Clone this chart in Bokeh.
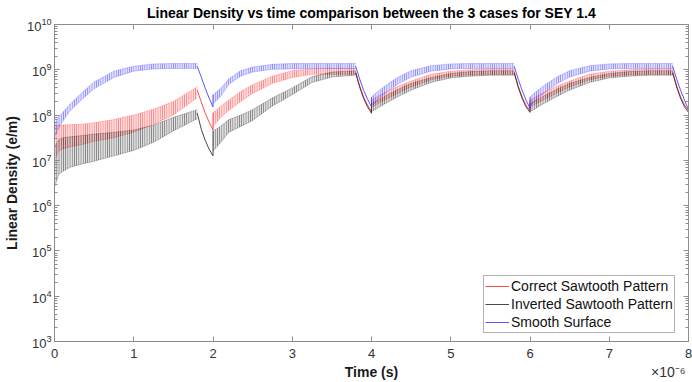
import numpy as np
from bokeh.plotting import figure
from bokeh.models import (LinearAxis, LogAxis, Legend, LegendItem, Title,
                          FixedTicker, Range1d, CustomJSTickFormatter)
from bokeh.embed import file_html
from bokeh.resources import INLINE

# ---------------- data (time in microseconds, densities as log10(e/m)) -------------
TRAIN_STARTS_US = [0.0, 2.0, 4.0, 6.0]
REL_T_US = [0.0, 0.05, 0.1, 0.2, 0.35, 0.5, 0.75, 1.0, 1.25, 1.5, 1.8]
DECAY_REL_T_US = [1.8, 1.85, 1.9, 1.95, 2.0]

SERIES_NAMES = ["Correct Sawtooth Pattern", "Inverted Sawtooth Pattern", "Smooth Surface"]

# Correct sawtooth (red)
red_start = 3.65
red_hi = [[7.75, 7.78, 7.78, 7.79, 7.80, 7.83, 7.90, 8.00, 8.13, 8.30, 8.62],
          [8.05, 8.12, 8.20, 8.33, 8.52, 8.67, 8.86, 8.98, 9.02, 9.03, 9.03],
          [8.33, 8.38, 8.43, 8.52, 8.65, 8.75, 8.90, 8.97, 9.00, 9.02, 9.02],
          [8.33, 8.38, 8.43, 8.52, 8.65, 8.75, 8.90, 8.97, 9.00, 9.02, 9.02]]
red_lo = [[7.00, 7.20, 7.25, 7.30, 7.35, 7.42, 7.50, 7.62, 7.80, 8.00, 8.38],
          [7.74, 7.85, 7.95, 8.10, 8.30, 8.48, 8.70, 8.83, 8.90, 8.90, 8.90],
          [8.18, 8.22, 8.27, 8.36, 8.50, 8.62, 8.78, 8.86, 8.89, 8.90, 8.90],
          [8.18, 8.22, 8.27, 8.36, 8.50, 8.62, 8.78, 8.86, 8.89, 8.90, 8.90]]
red_decay = [[8.55, 8.30, 8.05, 7.85, 7.67],
             [8.96, 8.65, 8.40, 8.22, 8.08],
             [8.96, 8.65, 8.40, 8.22, 8.10],
             [8.96, 8.65, 8.40, 8.22, 8.10]]

# Inverted sawtooth (black)
blk_start = 4.10
blk_hi = [[7.30, 7.45, 7.50, 7.52, 7.55, 7.58, 7.62, 7.67, 7.78, 7.95, 8.12],
          [7.65, 7.70, 7.76, 7.90, 8.00, 8.12, 8.38, 8.60, 8.85, 8.95, 8.98],
          [8.26, 8.30, 8.35, 8.45, 8.58, 8.70, 8.83, 8.92, 8.96, 8.98, 8.98],
          [8.26, 8.30, 8.35, 8.45, 8.58, 8.70, 8.83, 8.92, 8.96, 8.98, 8.98]]
blk_lo = [[6.40, 6.68, 6.75, 6.85, 6.92, 6.98, 7.10, 7.22, 7.40, 7.65, 7.92],
          [7.20, 7.30, 7.40, 7.62, 7.75, 7.88, 8.20, 8.45, 8.72, 8.84, 8.88],
          [8.08, 8.12, 8.18, 8.28, 8.42, 8.55, 8.72, 8.82, 8.86, 8.88, 8.88],
          [8.08, 8.12, 8.18, 8.28, 8.42, 8.55, 8.72, 8.82, 8.86, 8.88, 8.88]]
blk_decay = [[8.05, 7.70, 7.45, 7.25, 7.10],
             [8.93, 8.62, 8.37, 8.18, 8.04],
             [8.93, 8.62, 8.37, 8.18, 8.06],
             [8.93, 8.62, 8.37, 8.18, 8.06]]

# Smooth surface (blue)
blu_start = 4.30
blu_hi = [[7.80, 7.95, 8.05, 8.25, 8.50, 8.73, 8.97, 9.08, 9.13, 9.14, 9.14],
          [8.45, 8.52, 8.60, 8.80, 8.98, 9.06, 9.12, 9.14, 9.14, 9.14, 9.14],
          [8.40, 8.48, 8.55, 8.68, 8.85, 8.98, 9.09, 9.13, 9.14, 9.14, 9.14],
          [8.40, 8.48, 8.55, 8.68, 8.85, 8.98, 9.09, 9.13, 9.14, 9.14, 9.14]]
blu_lo = [[7.50, 7.70, 7.85, 8.10, 8.35, 8.58, 8.83, 8.97, 9.02, 9.03, 9.03],
          [8.25, 8.33, 8.42, 8.68, 8.86, 8.95, 9.01, 9.02, 9.03, 9.03, 9.03],
          [8.20, 8.28, 8.37, 8.52, 8.70, 8.84, 8.97, 9.02, 9.03, 9.03, 9.03],
          [8.20, 8.28, 8.37, 8.52, 8.70, 8.84, 8.97, 9.02, 9.03, 9.03, 9.03]]
blu_decay = [[9.08, 8.85, 8.60, 8.38, 8.18],
             [9.08, 8.80, 8.55, 8.35, 8.18],
             [9.08, 8.80, 8.55, 8.33, 8.15],
             [9.08, 8.80, 8.55, 8.33, 8.12]]

X_TICKS = [0, 1, 2, 3, 4, 5, 6, 7, 8]
Y_DECADES = [3, 4, 5, 6, 7, 8, 9, 10]

# ---------------- figure ---------------------------------------------------------
p = figure(width=692, height=382, x_range=Range1d(0, 8), y_range=Range1d(1e3, 1e10),
           y_axis_type="log", output_backend="svg", toolbar_location=None,
           min_border_left=50, min_border_right=4, min_border_top=24, min_border_bottom=39)
p.background_fill_color = "white"
p.border_fill_color = "white"
p.xgrid.visible = False
p.ygrid.visible = False
p.outline_line_color = "#8c8c8c"

series = [
    ("#ff2a2a", red_start, red_hi, red_lo, red_decay),
    ("#2a2a2a", blk_start, blk_hi, blk_lo, blk_decay),
    ("#3a3aff", blu_start, blu_hi, blu_lo, blu_decay),
]

legend_renderers = []
for color, start, his, los, decays in series:
    first = None
    p.line([0.0, 0.0], [10 ** start, 10 ** his[0][0]], line_color=color, line_width=1, line_alpha=0.8)
    for k, t0 in enumerate(TRAIN_STARTS_US):
        t = [t0 + r for r in REL_T_US]
        hi = [10 ** v for v in his[k]]
        lo = [10 ** v for v in los[k]]
        p.varea(x=t, y1=lo, y2=hi, fill_color=color, fill_alpha=0.15,
                hatch_pattern="|", hatch_color=color, hatch_alpha=0.7,
                hatch_scale=2.2, hatch_weight=0.9)
        p.line(t, hi, line_color=color, line_alpha=0.3, line_width=0.8)
        p.line(t, lo, line_color=color, line_alpha=0.3, line_width=0.8)
        dt = [t0 + r for r in DECAY_REL_T_US]
        dv = [10 ** v for v in decays[k]]
        if k + 1 < len(TRAIN_STARTS_US):
            dt = dt + [dt[-1]]
            dv = dv + [10 ** his[k + 1][0]]
        r = p.line(dt, dv, line_color=color, line_width=1, line_alpha=0.85)
        if first is None:
            first = r
    legend_renderers.append(first)

# ---------------- axes -----------------------------------------------------------
AX_COL = "#8c8c8c"
LBL_COL = "#333333"

p.xaxis.ticker = FixedTicker(ticks=X_TICKS)
p.yaxis.ticker = FixedTicker(ticks=[10.0 ** d for d in Y_DECADES],
                             minor_ticks=[m * 10.0 ** d for d in Y_DECADES[:-1] for m in range(2, 10)])

for ax in (p.xaxis[0], p.yaxis[0]):
    ax.axis_line_color = AX_COL
    ax.major_tick_line_color = AX_COL
    ax.minor_tick_line_color = AX_COL
    ax.major_tick_in = 5
    ax.major_tick_out = 0
    ax.minor_tick_in = 3
    ax.minor_tick_out = 0
    ax.major_label_text_color = LBL_COL
    ax.major_label_text_font = "Liberation Sans"
    ax.major_label_text_font_size = "13px"
    ax.axis_label_text_font = "Liberation Sans"
    ax.axis_label_text_font_style = "bold"
    ax.axis_label_text_font_size = "14px"
    ax.axis_label_text_color = "#1a1a1a"

p.xaxis.minor_tick_line_color = None
p.xaxis.axis_label = "Time (s)"
p.xaxis.axis_label_standoff = 3
p.xaxis.major_label_standoff = 7
p.yaxis.axis_label = "Linear Density (e/m)"
p.yaxis.axis_label_standoff = 4
p.yaxis.major_label_standoff = 3

top = LinearAxis(ticker=FixedTicker(ticks=X_TICKS), formatter=CustomJSTickFormatter(code="return ''"),
                 axis_line_color=AX_COL, major_tick_line_color=AX_COL, major_tick_in=5,
                 major_tick_out=0, minor_tick_line_color=None, major_label_standoff=0)
right = LogAxis(ticker=FixedTicker(ticks=[10.0 ** d for d in Y_DECADES],
                                   minor_ticks=[m * 10.0 ** d for d in Y_DECADES[:-1] for m in range(2, 10)]),
                formatter=CustomJSTickFormatter(code="return ''"), axis_line_color=AX_COL,
                major_tick_line_color=AX_COL, minor_tick_line_color=AX_COL,
                major_tick_in=5, major_tick_out=0, minor_tick_in=3, minor_tick_out=0,
                major_label_standoff=0)
p.add_layout(top, "above")
p.add_layout(right, "right")

# ---------------- title ----------------------------------------------------------
p.title.text = "Linear Density vs time comparison between the 3 cases for SEY 1.4"
p.title.align = "center"
p.title.vertical_align = "top"
p.title.text_font = "Liberation Sans"
p.title.text_font_style = "bold"
p.title.text_font_size = "14px"
p.title.text_color = "#000000"
p.title.standoff = 4

# x multiplier, right-aligned under the axis
mult = Title(text="×10⁻⁶", align="right", vertical_align="top", text_font="Liberation Sans",
             text_font_size="14px", text_font_style="normal", text_color=LBL_COL,
             standoff=-38, offset=3)
p.add_layout(mult, "below")

# ---------------- legend ---------------------------------------------------------
legend = Legend(items=[LegendItem(label=n, renderers=[r]) for n, r in zip(SERIES_NAMES, legend_renderers)],
                location=(429, 8), orientation="vertical")
legend.label_text_font = "Liberation Sans"
legend.label_text_font_size = "14px"
legend.label_text_color = "#111111"
legend.glyph_width = 24
legend.glyph_height = 18
legend.label_height = 18
legend.label_standoff = 2
legend.spacing = 0
legend.padding = 1
legend.margin = 0
legend.border_line_color = "#666666"
legend.border_line_width = 1
legend.background_fill_alpha = 1.0
p.add_layout(legend, "center")

open("out.html", "w").write(file_html(p, INLINE))
